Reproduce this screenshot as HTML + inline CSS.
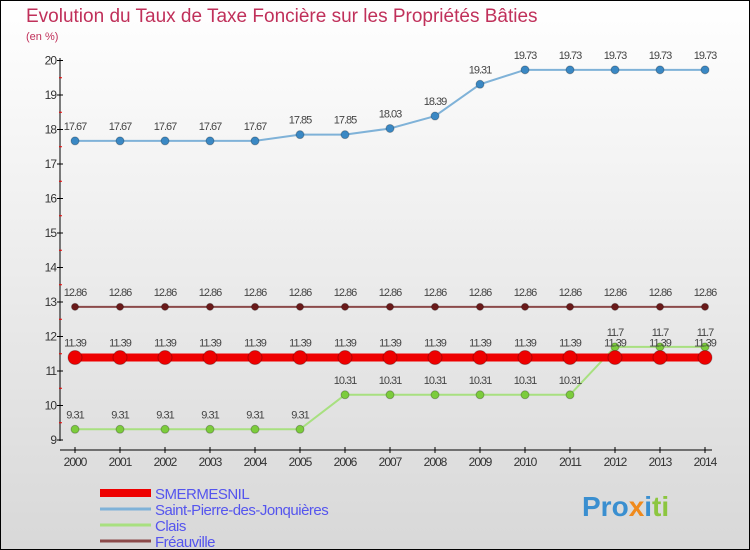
<!DOCTYPE html>
<html><head><meta charset="utf-8"><style>
body{margin:0}
#c{width:750px;height:550px;position:relative;overflow:hidden;font-family:"Liberation Sans",sans-serif}
svg text{font-family:"Liberation Sans",sans-serif}
</style></head><body>
<div id="c">
<svg width="750" height="550" id="s">
<defs><linearGradient id="bg" x1="0" y1="0" x2="0" y2="1"><stop offset="0" stop-color="#ffffff"/><stop offset="1" stop-color="#d8d8d8"/></linearGradient></defs>
<rect x="0.5" y="0.5" width="749" height="549" fill="url(#bg)" stroke="#000"/>
<text x="26" y="22" font-size="19" fill="#c0305a">Evolution du Taux de Taxe Foncière sur les Propriétés Bâties</text>
<text x="26" y="40" font-size="11" fill="#c0305a">(en %)</text>
<g id="axes"></g><g id="series"></g><g id="legend"></g>
<text x="582" y="516" font-size="28" font-weight="bold" fill="#3a8fd0">Pro<tspan fill="#f08a1c">x</tspan><tspan fill="#3a8fd0">i</tspan><tspan fill="#8cc63f">ti</tspan></text>
</svg></div>
<script>
const years=[2000,2001,2002,2003,2004,2005,2006,2007,2008,2009,2010,2011,2012,2013,2014];
const yTicks=[9,10,11,12,13,14,15,16,17,18,19,20];
const smermesnil=[11.39,11.39,11.39,11.39,11.39,11.39,11.39,11.39,11.39,11.39,11.39,11.39,11.39,11.39,11.39];
const saintPierre=[17.67,17.67,17.67,17.67,17.67,17.85,17.85,18.03,18.39,19.31,19.73,19.73,19.73,19.73,19.73];
const clais=[9.31,9.31,9.31,9.31,9.31,9.31,10.31,10.31,10.31,10.31,10.31,10.31,11.7,11.7,11.7];
const freauville=[12.86,12.86,12.86,12.86,12.86,12.86,12.86,12.86,12.86,12.86,12.86,12.86,12.86,12.86,12.86];
const NS="http://www.w3.org/2000/svg";
const X=i=>75+i*45, Y=v=>440-(v-9)*34.5;
function mk(t,a,p){const e=document.createElementNS(NS,t);for(const k in a)e.setAttribute(k,a[k]);p.appendChild(e);return e;}
const ax=document.getElementById('axes');
let l=mk('line',{x1:60,y1:58,x2:60,y2:441,stroke:'#000'},ax);


l=mk('line',{x1:60,y1:450,x2:712,y2:450,stroke:'#000'},ax);


yTicks.forEach(v=>{
 let t=mk('line',{x1:57,y1:Y(v),x2:63,y2:Y(v),stroke:'#000'},ax);
 
 
 if(v<20){let m=mk('line',{x1:59,y1:Y(v+0.5),x2:62,y2:Y(v+0.5),stroke:'#e00'},ax);
 
 }
 let tx=mk('text',{x:56,y:Y(v)+4,'font-size':12,fill:'#333','text-anchor':'end','letter-spacing':'-1'},ax);tx.textContent=v;
 
 
});
years.forEach((y,i)=>{
 let t=mk('line',{x1:X(i),y1:447,x2:X(i),y2:453,stroke:'#000'},ax);
 
 
 let tx=mk('text',{x:X(i),y:466,'font-size':12,fill:'#333','text-anchor':'middle','letter-spacing':'-1'},ax);tx.textContent=y;
 
 
});
const sg=document.getElementById('series');
function draw(vals,name,color,lw,r,dot){
 const g=mk('g',{},sg);
 
 
 let p=mk('polyline',{points:vals.map((v,i)=>X(i)+','+Y(v)).join(' '),fill:'none',stroke:color,'stroke-width':lw},g);
 
 
 vals.forEach((v,i)=>{
  let c=mk('circle',{cx:X(i),cy:Y(v),r:r,fill:dot,stroke:'rgba(0,0,0,0.25)'},g);
  
  
  let t=mk('text',{x:X(i),y:Y(v)-11,'font-size':11,fill:'#444','text-anchor':'middle','letter-spacing':'-1'},g);t.textContent=v;
  
  
 });
}
draw(saintPierre,'saint-pierre','#7fb2d8',2,4,'#3a88c4');
draw(freauville,'freauville','#8b4a4a',2,3.5,'#6a1a1a');
draw(clais,'clais','#a8e080',2,4,'#7ccc3c');
draw(smermesnil,'smermesnil','#ee0000',8,7,'#ee0000');
const lg=document.getElementById('legend');
[['SMERMESNIL','#ee0000',8],['Saint-Pierre-des-Jonquières','#7fb2d8',3],['Clais','#a8e080',3],['Fréauville','#8b4a4a',3]].forEach((d,i)=>{
 const y=493+i*16;
 let s=mk('line',{x1:100,y1:y,x2:151,y2:y,stroke:d[1],'stroke-width':d[2]},lg);
 
 
 let t=mk('text',{x:155,y:y+6,'font-size':15,fill:'#5555ee','letter-spacing':'-0.5'},lg);t.textContent=d[0];
 
 
});
</script>
</body></html>
